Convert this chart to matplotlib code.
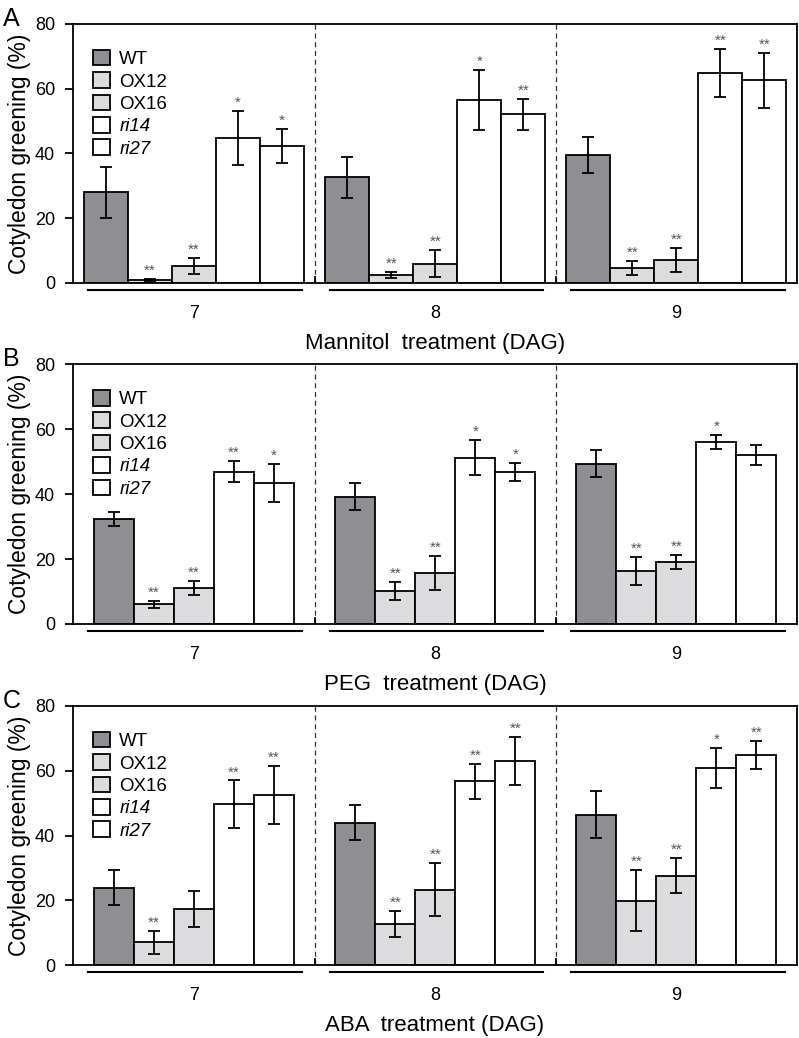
import numpy as np
import matplotlib.pyplot as plt
from matplotlib.transforms import blended_transform_factory

plt.rcParams['font.family'] = ['Liberation Sans', 'DejaVu Sans']

# days after germination (groups) and genotypes
days = ['7', '8', '9']
genotypes = ['WT', 'OX12', 'OX16', 'ri14', 'ri27']
colors = ['#8f8f93', '#dcdcde', '#dcdcde', 'white', 'white']

# A - mannitol
mannitol_mean = [[28.0, 0.9, 5.2, 44.8, 42.4],
                 [32.7, 2.4, 5.9, 56.5, 52.1],
                 [39.6, 4.7, 7.1, 64.9, 62.6]]
mannitol_err = [[7.8, 0.3, 2.5, 8.2, 5.3],
                [6.3, 1.0, 4.2, 9.3, 4.7],
                [5.5, 2.1, 3.6, 7.3, 8.5]]
mannitol_sig = [['', '**', '**', '*', '*'],
                ['', '**', '**', '*', '**'],
                ['', '**', '**', '**', '**']]

# B - PEG
peg_mean = [[32.3, 6.1, 11.0, 46.9, 43.3],
            [39.2, 10.1, 15.7, 51.2, 46.8],
            [49.3, 16.4, 19.1, 56.1, 52.0]]
peg_err = [[2.2, 1.1, 2.2, 3.2, 5.9],
           [4.2, 2.7, 5.1, 5.3, 2.8],
           [4.2, 4.3, 2.1, 2.2, 3.2]]
peg_sig = [['', '**', '**', '**', '*'],
           ['', '**', '**', '*', '*'],
           ['', '**', '**', '*', '']]

# C - ABA
aba_mean = [[23.9, 7.0, 17.3, 49.6, 52.6],
            [44.0, 12.6, 23.3, 56.7, 62.9],
            [46.4, 19.9, 27.6, 60.9, 64.9]]
aba_err = [[5.5, 3.6, 5.5, 7.4, 9.0],
           [5.5, 4.1, 8.3, 5.4, 7.4],
           [7.2, 9.5, 5.5, 6.1, 4.3]]
aba_sig = [['', '**', '', '**', '**'],
           ['', '**', '**', '**', '**'],
           ['', '**', '**', '*', '**']]

panels = [
    ('A', 'Mannitol  treatment (DAG)', mannitol_mean, mannitol_err, mannitol_sig, 1.0, 24, 283),
    ('B', 'PEG  treatment (DAG)', peg_mean, peg_err, peg_sig, 0.909, 364, 624),
    ('C', 'ABA  treatment (DAG)', aba_mean, aba_err, aba_sig, 0.909, 706, 965),
]

W, H = 799, 1038
fig = plt.figure(figsize=(W / 100, H / 100), dpi=100)

step = 5.48
centers = np.arange(len(days)) * step + 2.5

for letter, xlabel, mean, err, sig, w, top_px, bot_px in panels:
    mean = np.array(mean)
    err = np.array(err)
    ax = fig.add_axes([73 / W, 1 - bot_px / H, 724 / W, (bot_px - top_px) / H])

    for i, g in enumerate(genotypes):
        x = centers + (i - 2) * w
        ax.bar(x, mean[:, i], width=w, color=colors[i], edgecolor='black',
               linewidth=1.3, yerr=err[:, i], capsize=4.5, label=g, zorder=2,
               error_kw=dict(elinewidth=1.3, capthick=1.3, ecolor='black'))
        for j in range(len(days)):
            if sig[j][i]:
                ax.annotate(sig[j][i], (x[j], mean[j, i] + err[j, i]),
                            xytext=(0, 3), textcoords='offset points',
                            ha='center', va='baseline', fontsize=11, color='#555555')

    # dashed separators between days
    for k in range(len(days) - 1):
        xs = centers[k] + step / 2
        ax.axvline(xs, color='#333333', lw=0.9, ls=(0, (4, 3)), zorder=1)
        ax.axvline(xs, ymax=0.025, color='black', lw=1.3, zorder=1)

    # underline of each day group
    trans = blended_transform_factory(ax.transData, ax.transAxes)
    for c in centers:
        ax.plot([c - 2.4, c + 2.46], [-0.027, -0.027], transform=trans,
                color='black', lw=1.5, clip_on=False)

    ax.set_xlim(-0.25, 16.2)
    ax.set_ylim(0, 80)
    ax.set_yticks([0, 20, 40, 60, 80])
    ax.set_xticks(centers)
    ax.set_xticklabels(days)
    ax.tick_params(axis='x', length=0, pad=16, labelsize=13)
    ax.tick_params(axis='y', length=5.8, width=1.3, pad=7, labelsize=13)
    for s in ax.spines.values():
        s.set_linewidth(1.3)
    ax.set_xlabel(xlabel, fontsize=16, labelpad=8)
    ax.set_ylabel('Cotyledon greening (%)', fontsize=16.5, labelpad=3)

    leg = ax.legend(loc='upper left', bbox_to_anchor=(0.0276, 0.9),
                    frameon=False, fontsize=13.5, handlelength=0.9,
                    handleheight=0.9, handletextpad=0.5, labelspacing=0.22,
                    borderaxespad=0, borderpad=0)
    for t in leg.get_texts():
        if t.get_text().startswith('ri'):
            t.set_style('italic')

    fig.text(0.004, 1 - (top_px + 2) / H, letter, fontsize=18, va='baseline')

fig.savefig('out.png', dpi=100)
